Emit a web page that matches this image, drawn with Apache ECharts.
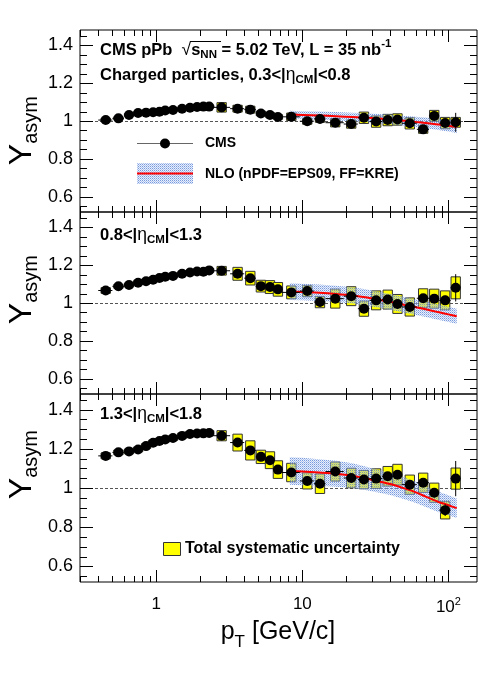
<!DOCTYPE html>
<html><head><meta charset="utf-8">
<script src="https://cdn.jsdelivr.net/npm/echarts@6/dist/echarts.min.js"></script>
<style>html,body{margin:0;padding:0;background:#fff}#c{width:498px;height:675px}</style>
</head><body><div id="c"></div>
<script>
// ---------------- data ----------------
const binEdges = [0.4,0.5,0.6,0.7,0.8,0.9,1.0,1.1,1.2,1.4,1.6,1.8,2.0,2.2,2.4,3.2,4.0,4.8,5.6,6.4,7.2,9.6,12.0,14.4,19.2,24.0,28.8,35.2,41.6,48.0,60.8,73.6,86.4,103.6,120.8];
const pt = [0.45,0.55,0.65,0.75,0.85,0.95,1.05,1.15,1.3,1.5,1.7,1.9,2.1,2.3,2.8,3.6,4.4,5.2,6.0,6.8,8.4,10.8,13.2,16.8,21.6,26.4,32.0,38.4,44.8,54.4,67.2,80.0,95.0,112.2];

const yEta1 = [1.005,1.014,1.032,1.042,1.044,1.046,1.049,1.055,1.058,1.065,1.070,1.074,1.076,1.076,1.072,1.065,1.060,1.040,1.032,1.021,1.022,0.999,1.011,0.991,0.984,1.017,0.997,1.005,1.008,0.988,0.956,1.027,0.989,0.993];
const systEta1 = [0.010,0.008,0.007,0.007,0.007,0.007,0.007,0.007,0.007,0.007,0.007,0.007,0.007,0.007,0.025,0.018,0.018,0.012,0.012,0.012,0.020,0.016,0.018,0.022,0.022,0.030,0.030,0.030,0.030,0.030,0.021,0.029,0.030,0.026];
const statEta1 = [0.002,0.002,0.002,0.002,0.002,0.002,0.002,0.002,0.002,0.002,0.002,0.002,0.002,0.002,0.003,0.003,0.003,0.003,0.004,0.004,0.004,0.005,0.006,0.006,0.007,0.008,0.008,0.009,0.010,0.011,0.012,0.016,0.022,0.050];

const yEta2 = [1.066,1.088,1.095,1.107,1.115,1.123,1.132,1.138,1.143,1.154,1.161,1.166,1.165,1.172,1.170,1.154,1.131,1.089,1.084,1.072,1.056,1.063,1.005,1.023,1.036,0.970,1.014,1.018,0.995,0.979,1.025,1.023,1.014,1.080];
const systEta2 = [0.015,0.010,0.010,0.010,0.010,0.010,0.010,0.010,0.010,0.010,0.010,0.010,0.010,0.010,0.023,0.034,0.036,0.031,0.034,0.036,0.034,0.030,0.030,0.050,0.050,0.040,0.050,0.050,0.050,0.048,0.050,0.050,0.050,0.058];
const statEta2 = [0.002,0.002,0.002,0.002,0.002,0.002,0.002,0.002,0.002,0.002,0.002,0.002,0.002,0.002,0.003,0.003,0.003,0.004,0.004,0.004,0.005,0.006,0.006,0.007,0.008,0.009,0.010,0.011,0.012,0.014,0.016,0.020,0.025,0.072];

const yEta3 = [1.164,1.182,1.187,1.197,1.214,1.231,1.240,1.248,1.255,1.266,1.276,1.278,1.279,1.281,1.267,1.232,1.192,1.159,1.142,1.094,1.079,1.036,1.022,1.084,1.051,1.043,1.048,1.060,1.068,1.017,1.027,0.976,0.887,1.048];
const systEta3 = [0.015,0.012,0.012,0.012,0.012,0.012,0.012,0.012,0.012,0.012,0.012,0.012,0.012,0.012,0.026,0.043,0.049,0.034,0.043,0.045,0.047,0.041,0.050,0.049,0.050,0.047,0.050,0.050,0.053,0.049,0.049,0.049,0.045,0.054];
const statEta3 = [0.002,0.002,0.002,0.002,0.002,0.002,0.002,0.002,0.002,0.002,0.002,0.002,0.002,0.002,0.003,0.003,0.004,0.004,0.004,0.005,0.006,0.007,0.008,0.009,0.010,0.011,0.012,0.013,0.015,0.017,0.020,0.024,0.030,0.090];

// NLO (nPDF=EPS09, FF=KRE): central value and half-width of band
const nloPt = [8.2,10,13,17,22,27,33,40,50,60,70,85,100,114];
const nloEta1 = [1.034,1.032,1.029,1.025,1.021,1.018,1.013,1.008,1.001,0.995,0.990,0.982,0.975,0.968];
const nloErrEta1 = [0.020,0.020,0.021,0.022,0.022,0.023,0.024,0.025,0.026,0.027,0.028,0.029,0.030,0.031];
const nloEta2 = [1.060,1.058,1.054,1.048,1.040,1.030,1.018,1.006,0.990,0.978,0.967,0.952,0.940,0.930];
const nloErrEta2 = [0.044,0.044,0.044,0.043,0.043,0.043,0.042,0.042,0.042,0.041,0.041,0.041,0.040,0.040];
const nloEta3 = [1.087,1.084,1.079,1.073,1.063,1.050,1.035,1.020,0.998,0.978,0.956,0.930,0.912,0.897];
const nloErrEta3 = [0.070,0.070,0.068,0.066,0.063,0.060,0.058,0.056,0.055,0.054,0.053,0.052,0.051,0.050];

// axis ticks / labels
const xRange = [0.3, 157];
const yRange = [0.52, 1.48];
const xMajorTicks = [1, 10, 100];
const xMinorTicks = [0.3,0.4,0.5,0.6,0.7,0.8,0.9,2,3,4,5,6,7,8,9,20,30,40,50,60,70,80,90];
const yMajorTicks = [0.6, 0.8, 1.0, 1.2, 1.4];
const yMinorTicks = [0.55,0.65,0.7,0.75,0.85,0.9,0.95,1.05,1.1,1.15,1.25,1.3,1.35,1.45];

// ---------------- styling ----------------
const FONT = '"Liberation Sans", Arial, Helvetica, sans-serif';
const BOX_F = Math.pow(10, 0.032);   // half width of systematic boxes (log space)
const panels = [
  {y: yEta1, syst: systEta1, stat: statEta1, nlo: nloEta1, nloErr: nloErrEta1, top: 30, h: 182},
  {y: yEta2, syst: systEta2, stat: statEta2, nlo: nloEta2, nloErr: nloErrEta2, top: 212, h: 182},
  {y: yEta3, syst: systEta3, stat: statEta3, nlo: nloEta3, nloErr: nloErrEta3, top: 394, h: 188}
];

// dotted blue fill pattern (ROOT-like hatch)
const pc = document.createElement('canvas'); pc.width = 2; pc.height = 2;
const pg = pc.getContext('2d');
pg.fillStyle = 'rgba(95,135,215,0.85)'; pg.fillRect(0,0,1,1);
pg.fillStyle = 'rgba(140,170,230,0.7)'; pg.fillRect(1,1,1,1);
pg.fillStyle = 'rgba(190,205,240,0.35)'; pg.fillRect(1,0,1,1); pg.fillRect(0,1,1,1);
const bandFill = {image: pc, repeat: 'repeat'};

const grid = [], xAxis = [], yAxis = [], series = [];
panels.forEach((P, i) => {
  grid.push({left: 80, width: 397, top: P.top, height: P.h, show: true, borderColor: '#000', borderWidth: 1,
             backgroundColor: 'transparent', outerBoundsMode: 'none', containLabel: false});
  xAxis.push({
    gridIndex: i, type: 'log', logBase: 10, min: xRange[0], max: xRange[1],
    axisLine: {show: false}, axisTick: {show: false}, splitLine: {show: false}, minorTick: {show: false},
    axisLabel: i === 2 ? {
      show: true, color: '#000', fontSize: 17, fontFamily: FONT, margin: 14,
      showMinLabel: true, showMaxLabel: true,
      formatter: v => Math.abs(v - 1) < 1e-6 ? '1' : Math.abs(v - 10) < 1e-6 ? '10' : Math.abs(v - 100) < 1e-5 ? '10{s|2}' : '',
      rich: {s: {fontSize: 11, fontFamily: FONT, color: '#000', padding: [0, 0, 12, 0]}}
    } : {show: false}
  });
  yAxis.push({
    gridIndex: i, type: 'value', min: yRange[0], max: yRange[1],
    axisLine: {show: false}, axisTick: {show: false}, splitLine: {show: false},
    axisLabel: {show: true, customValues: yMajorTicks, color: '#000', fontSize: 18, fontFamily: FONT, margin: 7,
                formatter: v => Math.abs(v - 1) < 1e-9 ? '1' : v.toFixed(1)}
  });
  // systematic boxes (+ y=1 reference line)
  series.push({
    type: 'custom', xAxisIndex: i, yAxisIndex: i, z: 2, silent: true,
    data: pt.map((p, k) => [p, P.y[k], P.syst[k]]),
    renderItem: (params, api) => {
      const p = api.value(0), v = api.value(1), s = api.value(2);
      const a = api.coord([p / BOX_F, v + s]), b = api.coord([p * BOX_F, v - s]);
      return {type: 'rect', shape: {x: a[0], y: a[1], width: b[0] - a[0], height: b[1] - a[1]},
              style: {fill: '#ffff00', stroke: '#333', lineWidth: 1}};
    },
    markLine: {z: 1, silent: true, symbol: 'none', label: {show: false},
               lineStyle: {color: '#555', type: [3, 2], width: 1}, data: [{yAxis: 1}]}
  });
  // NLO band
  series.push({
    type: 'custom', xAxisIndex: i, yAxisIndex: i, z: 3, silent: true, clip: true,
    data: [0],
    renderItem: (params, api) => {
      const pts = [];
      nloPt.forEach((p, k) => pts.push(api.coord([p, P.nlo[k] + P.nloErr[k]])));
      for (let k = nloPt.length - 1; k >= 0; k--) pts.push(api.coord([nloPt[k], P.nlo[k] - P.nloErr[k]]));
      return {type: 'polygon', shape: {points: pts}, style: {fill: bandFill}};
    }
  });
  // NLO central curve
  series.push({
    type: 'line', xAxisIndex: i, yAxisIndex: i, z: 4, silent: true, showSymbol: false, smooth: 0.25,
    data: nloPt.map((p, k) => [p, P.nlo[k]]),
    lineStyle: {color: '#ff0000', width: 2}
  });
  // statistical error bars + bin widths
  series.push({
    type: 'custom', xAxisIndex: i, yAxisIndex: i, z: 5, silent: true,
    data: pt.map((p, k) => [p, P.y[k], binEdges[k], binEdges[k + 1], P.stat[k]]),
    renderItem: (params, api) => {
      const p = api.value(0), v = api.value(1), lo = api.value(2), hi = api.value(3), st = api.value(4);
      const a = api.coord([lo, v]), b = api.coord([hi, v]);
      const c = api.coord([p, v + st]), d = api.coord([p, v - st]);
      return {type: 'group', children: [
        {type: 'line', shape: {x1: a[0], y1: a[1], x2: b[0], y2: b[1]}, style: {stroke: '#000', lineWidth: 1}},
        {type: 'line', shape: {x1: c[0], y1: c[1], x2: d[0], y2: d[1]}, style: {stroke: '#000', lineWidth: 1}}
      ]};
    }
  });
  // CMS points
  series.push({
    type: 'scatter', xAxisIndex: i, yAxisIndex: i, z: 6, silent: true,
    symbol: 'circle', symbolSize: 10, itemStyle: {color: '#000', opacity: 1},
    data: pt.map((p, k) => [p, P.y[k]])
  });
  // frame ticks (ROOT style, all four sides)
  series.push({
    type: 'custom', xAxisIndex: i, yAxisIndex: i, z: 7, silent: true, clip: false,
    data: [0],
    renderItem: (params, api) => {
      const ch = [];
      const bot = api.coord([xRange[0], yRange[0]])[1], top = api.coord([xRange[0], yRange[1]])[1];
      const left = api.coord([xRange[0], yRange[0]])[0], right = api.coord([xRange[1], yRange[0]])[0];
      const L = (x1, y1, x2, y2) => ch.push({type: 'line', shape: {x1, y1, x2, y2}, style: {stroke: '#000', lineWidth: 1}});
      const addX = (v, len) => { const x = Math.round(api.coord([v, 1])[0]) + 0.5; L(x, bot, x, bot - len); L(x, top, x, top + len); };
      const addY = (v, len) => { const y = Math.round(api.coord([1, v])[1]) + 0.5; L(left, y, left + len, y); L(right, y, right - len, y); };
      xMajorTicks.forEach(v => addX(v, 12));
      xMinorTicks.forEach(v => addX(v, 6));
      yMajorTicks.forEach(v => addY(v, 13));
      yMinorTicks.forEach(v => addY(v, 7));
      return {type: 'group', children: ch};
    }
  });
});

// ---------------- texts / legends ----------------
const B = {fontFamily: FONT, fontWeight: 'bold', fontSize: 16.5, color: '#000'};
const richHeader = {
  b: B,
  sub: {fontFamily: FONT, fontWeight: 'bold', fontSize: 11.5, color: '#000', padding: [10, 0, 0, 0]},
  sup: {fontFamily: FONT, fontWeight: 'bold', fontSize: 11.5, color: '#000', padding: [0, 0, 12, 0]},
  g: {fontFamily: FONT, fontSize: 17.5, color: '#000'}
};
const yTitleRich = {
  Y: {fontFamily: FONT, fontSize: 32, color: '#000'},
  s: {fontFamily: FONT, fontSize: 20, color: '#000', padding: [18, 0, 0, 0]}
};
const yTitle = (x, y) => ({type: 'text', x, y, rotation: Math.PI / 2,
  style: {text: '{Y|Y}{s|asym}', rich: yTitleRich, align: 'right', verticalAlign: 'middle'}});

const graphic = [
  {type: 'text', x: 100, y: 50, style: {text: '{b|CMS pPb  }{g|√}{b|s}{sub|NN}{b| = 5.02 TeV, L = 35 nb}{sup|-1}', rich: richHeader, verticalAlign: 'middle'}},
  {type: 'line', shape: {x1: 190, y1: 41.5, x2: 221, y2: 41.5}, style: {stroke: '#000', lineWidth: 1}},
  {type: 'text', x: 100, y: 75, style: {text: '{b|Charged particles, 0.3<|}{g|η}{sub|CM}{b||<0.8}', rich: richHeader, verticalAlign: 'middle'}},
  {type: 'text', x: 100, y: 235, style: {text: '{b|0.8<|}{g|η}{sub|CM}{b||<1.3}', rich: richHeader, verticalAlign: 'middle'}},
  {type: 'text', x: 100, y: 414, style: {text: '{b|1.3<|}{g|η}{sub|CM}{b||<1.8}', rich: richHeader, verticalAlign: 'middle'}},
  // legend: CMS
  {type: 'line', shape: {x1: 137, y1: 143.5, x2: 193, y2: 143.5}, style: {stroke: '#666', lineWidth: 1}},
  {type: 'circle', shape: {cx: 165, cy: 143.5, r: 5}, style: {fill: '#000'}},
  {type: 'text', x: 205, y: 143.5, style: {text: 'CMS', fontFamily: FONT, fontWeight: 'bold', fontSize: 14, fill: '#000', verticalAlign: 'middle'}},
  // legend: NLO
  {type: 'rect', shape: {x: 137, y: 163, width: 56, height: 21}, style: {fill: bandFill}},
  {type: 'line', shape: {x1: 137, y1: 173.5, x2: 193, y2: 173.5}, style: {stroke: '#ff0000', lineWidth: 2}},
  {type: 'text', x: 205, y: 174, style: {text: 'NLO (nPDF=EPS09, FF=KRE)', fontFamily: FONT, fontWeight: 'bold', fontSize: 14, fill: '#000', verticalAlign: 'middle'}},
  // legend: systematic
  {type: 'rect', shape: {x: 163.5, y: 542.5, width: 17, height: 13}, style: {fill: '#ffff00', stroke: '#333', lineWidth: 1}},
  {type: 'text', x: 185, y: 549, style: {text: 'Total systematic uncertainty', fontFamily: FONT, fontWeight: 'bold', fontSize: 16, fill: '#000', verticalAlign: 'middle'}},
  // axis titles
  yTitle(22, 96), yTitle(22, 255), yTitle(22, 430),
  {type: 'text', x: 278, y: 632, style: {text: '{p|p}{t|T}{p| [GeV/c]}', align: 'center', verticalAlign: 'middle',
    rich: {p: {fontFamily: FONT, fontSize: 25, color: '#000'}, t: {fontFamily: FONT, fontSize: 17, color: '#000', padding: [20, 0, 0, 0]}}}}
];

const chart = echarts.init(document.getElementById('c'), null, {renderer: 'canvas'});
chart.setOption({
  animation: false,
  backgroundColor: '#fff',
  grid, xAxis, yAxis, series, graphic
});
</script>
</body></html>
